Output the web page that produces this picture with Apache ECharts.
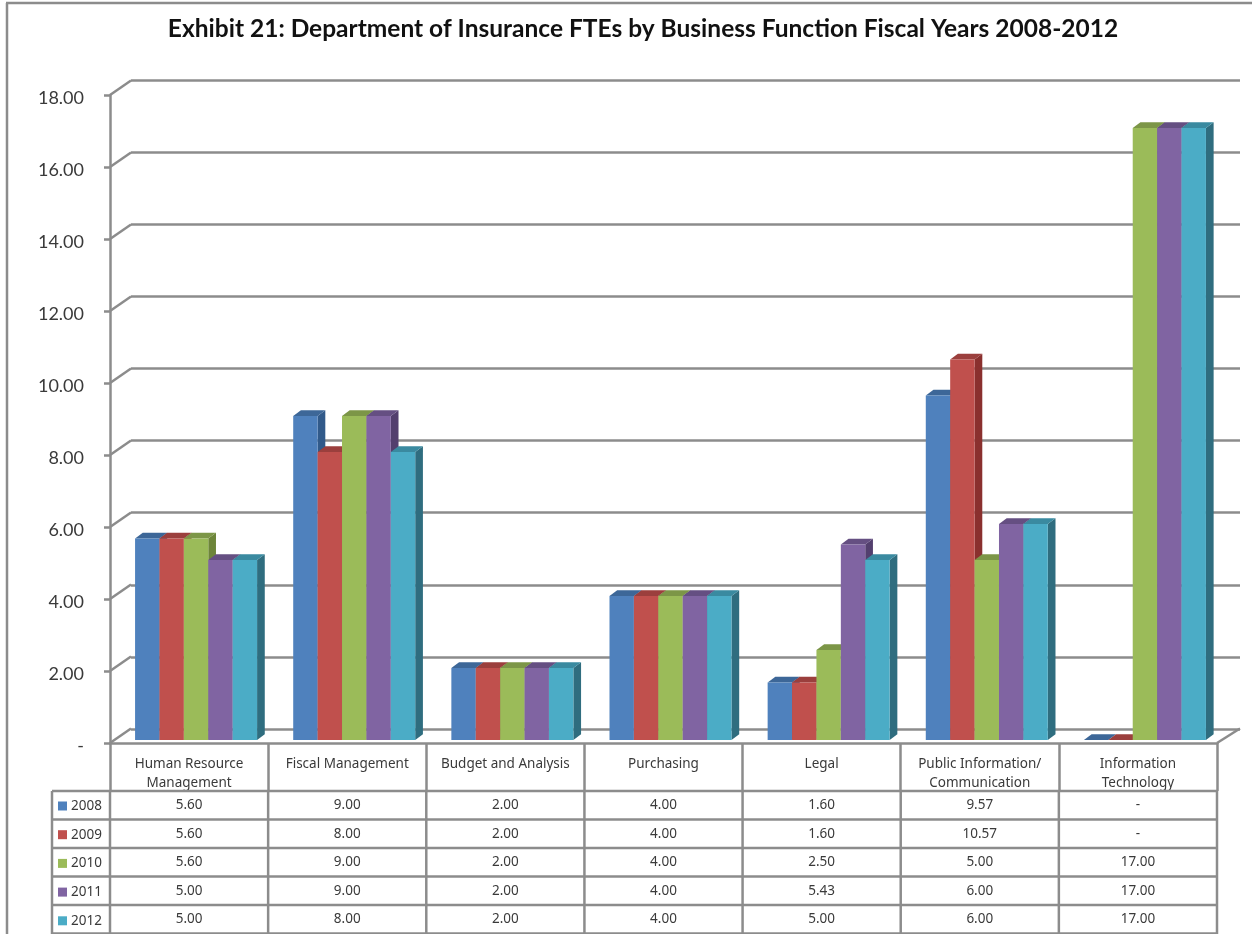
<!DOCTYPE html>
<html><head><meta charset="utf-8">
<style>html,body{margin:0;padding:0;background:#fff}#c{width:1252px;height:934px}</style>
<script src="https://cdn.jsdelivr.net/npm/echarts@6/dist/echarts.min.js"></script>
</head><body><div id="c"></div>
<script>
const titleText = 'Exhibit 21: Department of Insurance FTEs by Business Function Fiscal Years 2008-2012';
const categories = ['Human Resource\nManagement','Fiscal Management','Budget and Analysis','Purchasing','Legal','Public Information/\nCommunication','Information\nTechnology'];
const years = ['2008','2009','2010','2011','2012'];
const v2008 = [5.60,9.00,2.00,4.00,1.60,9.57,0];
const v2009 = [5.60,8.00,2.00,4.00,1.60,10.57,0];
const v2010 = [5.60,9.00,2.00,4.00,2.50,5.00,17.00];
const v2011 = [5.00,9.00,2.00,4.00,5.43,6.00,17.00];
const v2012 = [5.00,8.00,2.00,4.00,5.00,6.00,17.00];
const yTicks = [0,2,4,6,8,10,12,14,16,18];
const seriesValues = [v2008,v2009,v2010,v2011,v2012];

const frontColors = ['#4f81bd','#c0504d','#9bbb59','#8064a2','#4bacc6'];
const topColors   = ['#3d6798','#9b3f3d','#7c9647','#654f82','#3a8aa0'];
const sideColors  = ['#315a8a','#8a302e','#6d8539','#533f6e','#2f6d7f'];
const GRAY = '#8c8c8c';
const FONT = '"Noto Sans"';
const LW = 2.5;
const fmt = v => v === 0 ? '-' : v.toFixed(2);

const BAR_SHARE = 0.1543, DX = 7.7, DY = 5.7;
function barRenderer(s){
  return function(params, api){
    const i = api.value(0), v = api.value(1);
    const band = api.size([1,0])[0];
    const w = band * BAR_SHARE;
    const center = api.coord([i,0])[0];
    const x0 = center + (s - 2.5) * w, x1 = x0 + w;
    const y0 = api.coord([i,0])[1], y1 = api.coord([i,v])[1];
    return {type:'group',children:[
      {type:'polygon',shape:{points:[[x1,y0],[x1+DX,y0-DY],[x1+DX,y1-DY],[x1,y1]]},style:{fill:sideColors[s]}},
      {type:'polygon',shape:{points:[[x0,y1],[x0+DX,y1-DY],[x1+DX,y1-DY],[x1,y1]]},style:{fill:topColors[s]}},
      {type:'rect',shape:{x:x0,y:y1,width:w,height:y0-y1},style:{fill:frontColors[s]}}
    ]};
  };
}
const barSeries = years.map((y,s)=>({
  name:y,type:'custom',xAxisIndex:0,yAxisIndex:0,z:5,silent:true,
  itemStyle:{color:frontColors[s]},
  encode:{x:0,y:1},
  data:seriesValues[s].map((v,i)=>[i,v]),
  renderItem:barRenderer(s)
}));
const diagSeries = {
  name:'wall-left',type:'custom',xAxisIndex:2,yAxisIndex:2,z:2,silent:true,
  encode:{y:0},data:yTicks.map(t=>[t]),
  renderItem(params,api){
    const p = api.coord([0,api.value(0)]);
    const x = p[0]-api.size([1,0])[0]/2;
    return {type:'line',shape:{x1:x,y1:p[1],x2:x+21,y2:p[1]-14.5},style:{stroke:GRAY,lineWidth:LW}};
  }
};
const floorSeries = {
  name:'floor-right',type:'custom',xAxisIndex:2,yAxisIndex:2,z:2,silent:true,
  encode:{y:0},data:[[0]],
  renderItem(params,api){
    const p = api.coord([categories.length-1,0]);
    const x = p[0]+api.size([1,0])[0]/2;
    return {type:'line',shape:{x1:x,y1:p[1],x2:x+23,y2:p[1]-14.5},style:{stroke:GRAY,lineWidth:LW}};
  }
};

// table & frame
const graphics = [];
const hline=(x1,x2,y)=>graphics.push({type:'line',silent:true,z:10,shape:{x1,y1:y,x2,y2:y},style:{stroke:GRAY,lineWidth:LW}});
const vline=(x,y1,y2)=>graphics.push({type:'line',silent:true,z:10,shape:{x1:x,y1,x2:x,y2},style:{stroke:GRAY,lineWidth:LW}});
hline(6,1252,3); vline(7,3,934);
const L=110,R=1217,CW=(R-L)/categories.length;
const rowY=[791,819.5,848,876.5,905,933.5];
rowY.forEach(y=>hline(52,R+1,y));
vline(52,791,934);
for(let i=1;i<=categories.length;i++) vline(L+CW*i,791,934);
vline(L,791,934);
years.forEach((y,r)=>{
  seriesValues[r].forEach((v,c)=>{
    graphics.push({type:'text',silent:true,z:11,x:L+CW*(c+.5),y:(rowY[r]+rowY[r+1])/2,
      style:{text:fmt(v),font:'13.5px '+FONT,fill:'#3a3a3a',align:'center',verticalAlign:'middle'}});
  });
});

const option = {
  animation:false,
  backgroundColor:'#fff',
  title:{text:titleText,left:638,top:12,textAlign:'center',
    textStyle:{fontFamily:'Lato',fontSize:24.5,fontWeight:'bold',color:'#111'}},
  legend:{data:years,orient:'vertical',left:58,top:799,padding:0,height:200,itemWidth:9,itemHeight:9,itemGap:14.7,icon:'rect',
    textStyle:{fontFamily:FONT,fontSize:13.5,color:'#3a3a3a',padding:[0,0,0,-1]},selectedMode:false},
  grid:[
    {left:117,top:92,width:1107,height:648},
    {left:131,top:80,width:1109,height:649},
    {left:110,top:95,width:1107,height:648},
    {left:110,top:98,width:1107,height:648}
  ],
  xAxis:[
    {gridIndex:0,type:'category',data:categories,show:false},
    {gridIndex:1,type:'category',data:categories,show:false},
    {gridIndex:2,type:'category',data:categories,z:3,
      axisLine:{show:true,onZero:false,lineStyle:{color:GRAY,width:LW}},
      axisTick:{show:true,length:48,lineStyle:{color:GRAY,width:LW}},
      axisLabel:{interval:0,margin:11.5,fontFamily:FONT,fontSize:13.5,lineHeight:19,color:'#3a3a3a',verticalAlign:'top'}},
    {gridIndex:3,type:'category',data:categories,show:false}
  ],
  yAxis:[
    {gridIndex:0,type:'value',min:0,max:18,interval:2,show:false},
    {gridIndex:1,type:'value',min:0,max:18,interval:2,
      axisLine:{show:false},axisTick:{show:false},axisLabel:{show:false},
      splitLine:{show:true,lineStyle:{color:GRAY,width:LW}}},
    {gridIndex:2,type:'value',min:0,max:18,interval:2,z:3,
      axisLine:{show:true,lineStyle:{color:GRAY,width:LW}},
      axisTick:{show:true,length:6,lineStyle:{color:GRAY,width:LW}},
      axisLabel:{show:false},
      splitLine:{show:false}},
    {gridIndex:3,type:'value',min:0,max:18,interval:2,z:3,
      axisLine:{show:false},axisTick:{show:false},splitLine:{show:false},
      axisLabel:{margin:26,fontFamily:'Lato',fontSize:18,color:'#3a3a3a',formatter:fmt}}
  ],
  series:[diagSeries,floorSeries,...barSeries],
  graphic:graphics
};
echarts.init(document.getElementById('c'),null,{renderer:'canvas'}).setOption(option);
</script></body></html>
